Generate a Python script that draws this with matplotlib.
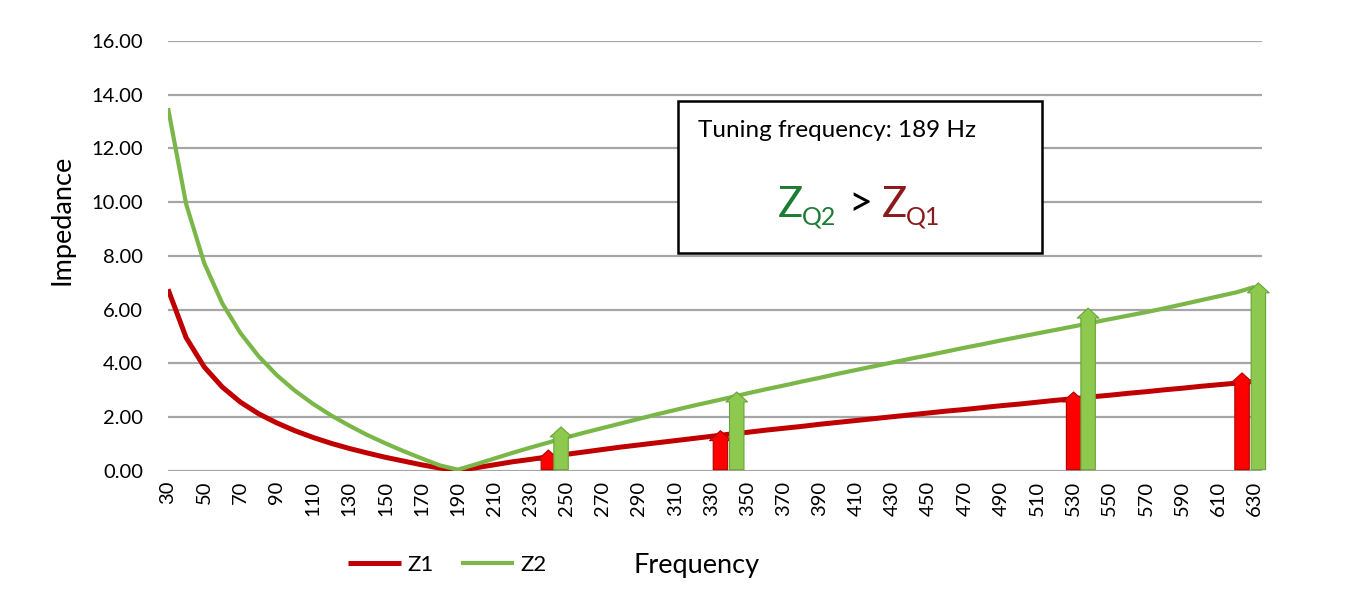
import matplotlib
matplotlib.use('Agg')
import matplotlib.pyplot as plt
from matplotlib.patches import Rectangle, FancyArrowPatch

plt.rcParams['font.family'] = ['Lato', 'DejaVu Sans']

# frequency samples (Hz) and impedance
freq = list(range(30, 631, 10))
z1 = [6.76, 4.96, 3.87, 3.12, 2.56, 2.13, 1.79, 1.50, 1.25, 1.03, 0.84, 0.67, 0.51, 0.37, 0.23, 0.11, 0.01,
      0.12, 0.23, 0.34, 0.43, 0.53, 0.62, 0.71, 0.80, 0.89, 0.97, 1.05, 1.13, 1.21, 1.29, 1.37, 1.44, 1.52,
      1.59, 1.66, 1.74, 1.81, 1.88, 1.95, 2.02, 2.09, 2.16, 2.23, 2.29, 2.36, 2.43, 2.49, 2.56, 2.63, 2.69,
      2.76, 2.82, 2.89, 2.95, 3.02, 3.08, 3.15, 3.21, 3.27, 3.34]
z2 = [13.50, 9.93, 7.73, 6.23, 5.13, 4.27, 3.57, 2.99, 2.50, 2.07, 1.69, 1.34, 1.03, 0.74, 0.47, 0.21, 0.05,
      0.25, 0.46, 0.67, 0.87, 1.06, 1.25, 1.43, 1.60, 1.77, 1.94, 2.11, 2.27, 2.43, 2.58, 2.73, 2.89, 3.04,
      3.18, 3.33, 3.47, 3.62, 3.76, 3.90, 4.04, 4.18, 4.31, 4.45, 4.59, 4.72, 4.86, 4.99, 5.12, 5.25, 5.38,
      5.52, 5.65, 5.78, 5.91, 6.05, 6.20, 6.35, 6.50, 6.65, 6.85]

# arrows marking the rise of each curve
red_arrow_x = [240, 335, 530, 623]
red_arrow_top = [0.78, 1.50, 2.94, 3.65]
green_arrow_x = [247, 344, 538, 632]
green_arrow_top = [1.64, 2.94, 6.06, 7.00]

xticks = list(range(30, 631, 20))
yticks = [0, 2, 4, 6, 8, 10, 12, 14, 16]

fig = plt.figure(figsize=(13.64, 6.0), dpi=100)
ax = fig.add_axes([0.1232, 0.215, 0.802, 0.7167])

for y in yticks:
    ax.axhline(y, color='#a6a6a6', lw=1.6, zorder=0)

l1, = ax.plot(freq, z1, color='#c00000', lw=3.6, solid_capstyle='butt', zorder=3, label='Z1')
l2, = ax.plot(freq, z2, color='#7ab648', lw=3.0, solid_capstyle='butt', zorder=3, label='Z2')

style = 'simple,head_width=1.2,head_length=0.55,tail_width=0.8'
for x, top in zip(red_arrow_x, red_arrow_top):
    ax.add_patch(FancyArrowPatch((x, 0.05), (x, top), arrowstyle=style, mutation_scale=13,
                                 fc='#ff0000', ec='#b00000', lw=0.8, zorder=4, clip_on=False,
                                 shrinkA=0, shrinkB=0))
for x, top in zip(green_arrow_x, green_arrow_top):
    ax.add_patch(FancyArrowPatch((x, 0.05), (x, top), arrowstyle=style, mutation_scale=13,
                                 fc='#8dc84f', ec='#6aa436', lw=0.8, zorder=5, clip_on=False,
                                 shrinkA=0, shrinkB=0))

ax.set_xlim(30, 634)
ax.set_ylim(0, 16)
ax.set_xticks(xticks)
ax.set_xticklabels([str(v) for v in xticks], rotation=90, fontsize=14.5)
ax.set_yticks(yticks)
ax.set_yticklabels(['%.2f' % v for v in yticks], fontsize=14.5)
ax.tick_params(axis='both', length=0)
ax.tick_params(axis='y', pad=18)
ax.tick_params(axis='x', pad=7)
for s in ax.spines.values():
    s.set_visible(False)

fig.text(62 / 1364, 1 - 220 / 600, 'Impedance', rotation=90, fontsize=19.5, ha='center', va='center')
fig.text(697 / 1364, 1 - 566 / 600, 'Frequency', fontsize=19.5, ha='center', va='center')

fig.legend(handles=[l1, l2], loc='center', bbox_to_anchor=(0.328, 0.058), ncol=2, frameon=False,
           fontsize=16, handlelength=2.4, columnspacing=1.2, handletextpad=0.3)

# text box, drawn by the axes so the texts can sit on top of it
ft = fig.transFigure
box = Rectangle((678 / 1364, 1 - 253 / 600), (1042 - 678) / 1364, 152 / 600, transform=ft,
                fc='white', ec='black', lw=1.8, zorder=10, clip_on=False)
ax.add_patch(box)
ax.text(698 / 1364, 1 - 131 / 600, 'Tuning frequency: 189 Hz', transform=ft,
        fontsize=17.5, ha='left', va='center', zorder=11)
green_dark = '#1e7b34'
red_dark = '#8b1a1a'
ax.text(778 / 1364, 1 - 217 / 600, 'Z', transform=ft, fontsize=30, color=green_dark,
        ha='left', va='baseline', zorder=11)
ax.text(802 / 1364, 1 - 224 / 600, 'Q2', transform=ft, fontsize=18, color=green_dark,
        ha='left', va='baseline', zorder=11)
ax.text(848 / 1364, 1 - 216 / 600, '>', transform=ft, fontsize=30, color='black',
        ha='left', va='baseline', zorder=11)
ax.text(882 / 1364, 1 - 217 / 600, 'Z', transform=ft, fontsize=30, color=red_dark,
        ha='left', va='baseline', zorder=11)
ax.text(906 / 1364, 1 - 224 / 600, 'Q1', transform=ft, fontsize=18, color=red_dark,
        ha='left', va='baseline', zorder=11)

fig.savefig('out.png', dpi=100, facecolor='white')
